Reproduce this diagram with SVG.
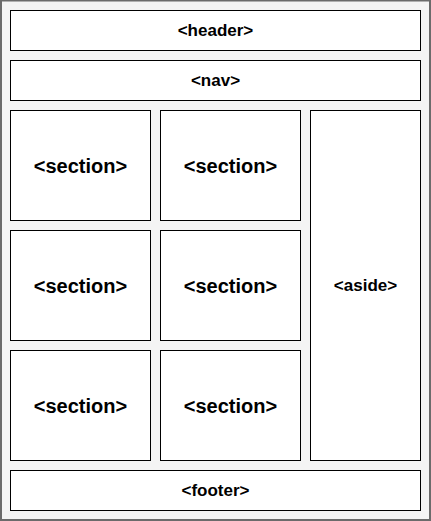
<svg xmlns="http://www.w3.org/2000/svg" width="431" height="521" viewBox="0 0 431 521">
<style>
.b{fill:#ffffff;stroke:#000000;stroke-width:1}
.t{font-family:"Liberation Sans",Arial,sans-serif;font-weight:bold;text-anchor:middle;dominant-baseline:central;fill:#000000}
.s{font-size:17px}
.l{font-size:20px}
</style>
<rect x="1" y="0.5" width="429" height="519.5" fill="#f4f4f4" stroke="#6b6b6b" stroke-width="2"/>
<g id="header"><rect class="b" x="10.5" y="10.5" width="410" height="40"/><text class="t s" x="215.5" y="30.5">&lt;header&gt;</text></g>
<g id="nav"><rect class="b" x="10.5" y="60.5" width="410" height="40"/><text class="t s" x="215.5" y="80.5">&lt;nav&gt;</text></g>
<g id="section1"><rect class="b" x="10.5" y="110.5" width="140" height="110"/><text class="t l" x="80.5" y="165.5">&lt;section&gt;</text></g>
<g id="section2"><rect class="b" x="160.5" y="110.5" width="140" height="110"/><text class="t l" x="230.5" y="165.5">&lt;section&gt;</text></g>
<g id="section3"><rect class="b" x="10.5" y="230.5" width="140" height="110"/><text class="t l" x="80.5" y="285.5">&lt;section&gt;</text></g>
<g id="section4"><rect class="b" x="160.5" y="230.5" width="140" height="110"/><text class="t l" x="230.5" y="285.5">&lt;section&gt;</text></g>
<g id="section5"><rect class="b" x="10.5" y="350.5" width="140" height="110"/><text class="t l" x="80.5" y="405.5">&lt;section&gt;</text></g>
<g id="section6"><rect class="b" x="160.5" y="350.5" width="140" height="110"/><text class="t l" x="230.5" y="405.5">&lt;section&gt;</text></g>
<g id="aside"><rect class="b" x="310.5" y="110.5" width="110" height="350"/><text class="t s" x="365.5" y="285.5">&lt;aside&gt;</text></g>
<g id="footer"><rect class="b" x="10.5" y="470.5" width="410" height="40"/><text class="t s" x="215.5" y="490.5">&lt;footer&gt;</text></g>
<g id="connectors"></g>
</svg>
